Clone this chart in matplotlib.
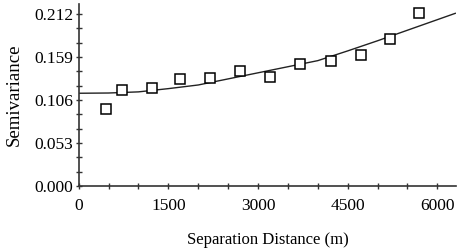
import numpy as np
import matplotlib
matplotlib.use("Agg")
import matplotlib.pyplot as plt
from matplotlib.ticker import MultipleLocator

plt.rcParams['font.family'] = ['Liberation Serif', 'DejaVu Serif']

# empirical semivariance (squares)
dist = [457, 729, 1221, 1693, 2192, 2699, 3196, 3702, 4216, 4718, 5213, 5693]
semivar = [0.0949, 0.1183, 0.1212, 0.1323, 0.1335, 0.1417, 0.1340, 0.1504,
           0.1544, 0.1615, 0.1808, 0.2136]

# fitted model curve
model_dist = [0, 500, 1000, 1500, 2000, 2500, 3000, 3500, 4000, 4500, 5000,
              5500, 6000, 6300]
model_val = [0.1143, 0.1146, 0.1160, 0.1200, 0.1245, 0.1320, 0.1395, 0.1470,
             0.1545, 0.1665, 0.1790, 0.1920, 0.2050, 0.2128]

xticks = [0, 1500, 3000, 4500, 6000]
yticks = [0.000, 0.053, 0.106, 0.159, 0.212]

fig = plt.figure(figsize=(4.58, 2.5), dpi=100)
ax = fig.add_axes([0.1718, 0.256, 0.824, 0.728])

ax.plot(model_dist, model_val, color='#222222', lw=1.0)
ax.plot(dist, semivar, ls='none', marker='s', ms=7, mfc='white',
        mec='black', mew=1.1)

ax.set_xlim(0, 6313)
ax.set_ylim(0, 0.2243)
ax.set_xticks(xticks)
ax.set_xticklabels([str(t) for t in xticks])
ax.set_yticks(yticks)
ax.set_yticklabels(['%.3f' % t for t in yticks])
ax.xaxis.set_minor_locator(MultipleLocator(500))
ax.yaxis.set_minor_locator(MultipleLocator(0.053 / 3))

for s in ['top', 'right']:
    ax.spines[s].set_visible(False)
for s in ['left', 'bottom']:
    ax.spines[s].set_linewidth(1.2)
    ax.spines[s].set_color('#333333')

ax.tick_params(which='both', direction='inout', length=5, width=1.0,
               color='#333333', labelsize=12.5)
ax.tick_params(axis='x', which='major', pad=6)
ax.tick_params(axis='y', which='major', pad=1.5)

ax.set_xlabel('Separation Distance (m)', fontsize=12, labelpad=13)
ax.set_ylabel('Semivariance', fontsize=13.5, labelpad=8)

fig.savefig('out.png', dpi=100)
